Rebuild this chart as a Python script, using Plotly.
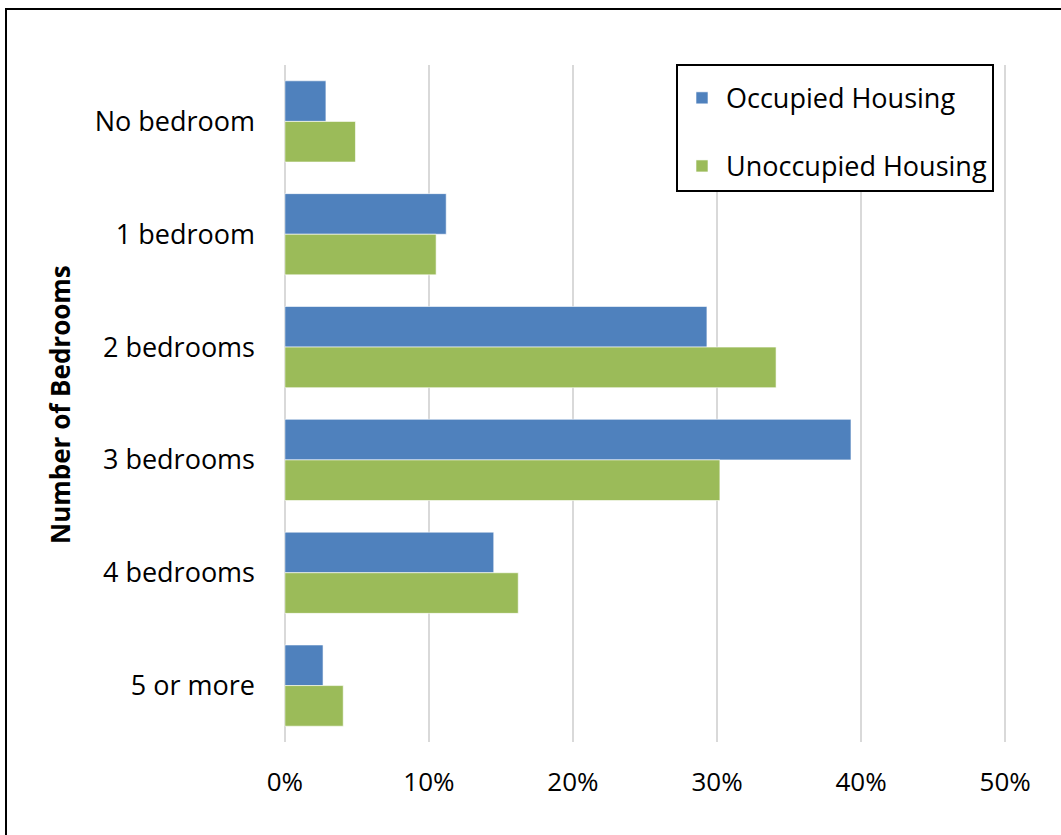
import plotly.graph_objects as go

categories = ["No bedroom", "1 bedroom", "2 bedrooms", "3 bedrooms", "4 bedrooms", "5 or more"]
occupied = [0.0285, 0.112, 0.293, 0.393, 0.145, 0.0265]
unoccupied = [0.049, 0.105, 0.341, 0.302, 0.162, 0.0405]
series_names = ["Occupied Housing", "Unoccupied Housing"]
x_ticks = [0, 0.1, 0.2, 0.3, 0.4, 0.5]
x_tick_labels = ["0%", "10%", "20%", "30%", "40%", "50%"]

FONT = "Open Sans"
W, H = 1061, 835
# target: 0% at x=285, 50% at x=1005; plot y 65..742
PAD = 0.002  # small range padding so edge gridlines are drawn
SCALE = (1005 - 285) / 0.5
L = round(285 - PAD * SCALE)
R = W - round(1005 + PAD * SCALE)
T = 65
B = H - 742

fig = go.Figure()
fig.add_trace(go.Bar(y=categories, x=occupied, orientation="h", name=series_names[0],
                     marker=dict(color="#4F81BD", line=dict(color="#FFFFFF", width=0.6)),
                     legendgroup="a"))
fig.add_trace(go.Bar(y=categories, x=unoccupied, orientation="h", name=series_names[1],
                     marker=dict(color="#9BBB59", line=dict(color="#FFFFFF", width=0.6)),
                     legendgroup="b"))

pw = W - L - R
ph = H - T - B

def px2x(px):
    return (px - L) / pw

def py2y(py):
    return (H - B - py) / ph

fig.update_layout(
    width=W, height=H,
    margin=dict(l=L, r=R, t=T, b=B, pad=0),
    paper_bgcolor="white", plot_bgcolor="white",
    barmode="group", bargap=0.28, bargroupgap=0,
    font=dict(family=FONT, size=27, color="#000000"),
    showlegend=True,
    legend=dict(x=px2x(676), y=py2y(64), xanchor="left", yanchor="top",
                bordercolor="#000000", borderwidth=2, bgcolor="white",
                font=dict(family=FONT, size=27, color="#000000"),
                title=dict(text="&nbsp;", font=dict(size=6)),
                traceorder="grouped", tracegroupgap=30,
                itemwidth=38),
    xaxis=dict(range=[-PAD, 0.5 + PAD], tickvals=x_ticks, ticktext=x_tick_labels,
               showgrid=True, gridcolor="#D9D9D9", gridwidth=1.5,
               zeroline=False, showline=False, ticks="",
               ticklabelstandoff=22,
               tickfont=dict(family=FONT, size=26, color="#000000")),
    yaxis=dict(categoryorder="array", categoryarray=categories, autorange="reversed",
               showgrid=False, zeroline=False, showline=False, ticks="",
               ticklabelstandoff=26,
               tickfont=dict(family=FONT, size=27, color="#000000")),
)

fig.add_annotation(text="<b>Number of Bedrooms</b>", textangle=-90,
                   xref="paper", yref="paper", x=px2x(60), y=py2y(405),
                   xanchor="center", yanchor="middle", showarrow=False,
                   font=dict(family=FONT, size=26, color="#000000"))

# outer chart border (extends beyond visible area on the right and bottom)
fig.add_shape(type="rect", xref="paper", yref="paper",
              x0=px2x(6), x1=px2x(1075), y0=py2y(850), y1=py2y(9),
              line=dict(color="#000000", width=2), fillcolor="rgba(0,0,0,0)", layer="below")

fig.write_html("out.html", config={"displayModeBar": False},
               post_script="document.body.style.margin='0';")
